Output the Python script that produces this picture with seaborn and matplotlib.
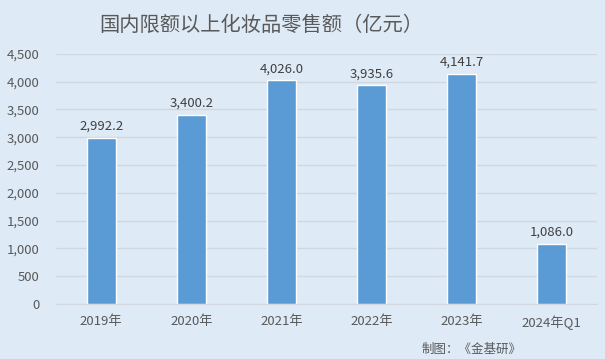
import matplotlib
matplotlib.use('Agg')
import matplotlib.pyplot as plt
import seaborn as sns
import pandas as pd

# data
categories = ['2019年', '2020年', '2021年', '2022年', '2023年', '2024年Q1']
sales = [2992.2, 3400.2, 4026.0, 3935.6, 4141.7, 1086.0]
y_ticks = [0, 500, 1000, 1500, 2000, 2500, 3000, 3500, 4000, 4500]

sns.set_style('white')
plt.rcParams['font.family'] = ['Noto Sans CJK SC', 'DejaVu Sans']

bg = '#DEEAF6'
grey = '#595959'

df = pd.DataFrame({'year': categories, 'value': sales})

fig = plt.figure(figsize=(6.05, 3.59), dpi=100, facecolor=bg)
ax = fig.add_axes([0.093, 0.153, 0.893, 0.697])
ax.set_facecolor(bg)

sns.barplot(data=df, x='year', y='value', color='#5B9BD5', width=0.32,
            saturation=1, ax=ax, zorder=3)

for i, v in enumerate(sales):
    ax.text(i, v + 90, f'{v:,.1f}', ha='center', va='bottom', fontsize=9.5, color='#404040')

ax.set_ylim(0, 4500)
ax.set_yticks(y_ticks)
ax.set_yticklabels([f'{t:,}' for t in y_ticks])
ax.grid(axis='y', color='#D0D7E0', linewidth=1, zorder=0)
for s in ['top', 'right', 'left']:
    ax.spines[s].set_visible(False)
ax.spines['bottom'].set_color('#D0D7E0')
ax.tick_params(axis='both', length=0, colors=grey, labelsize=9.5, pad=8)
ax.tick_params(axis='y', pad=12)
ax.set_xlabel('')
ax.set_ylabel('')

fig.text(0.432, 0.93, '国内限额以上化妆品零售额（亿元）', ha='center', va='center',
         fontsize=14.6, color=grey)
fig.text(0.862, 0.028, '制图：《金基研》', ha='right', va='center', fontsize=9, color=grey)

fig.savefig('out.png', dpi=100, facecolor=bg)
